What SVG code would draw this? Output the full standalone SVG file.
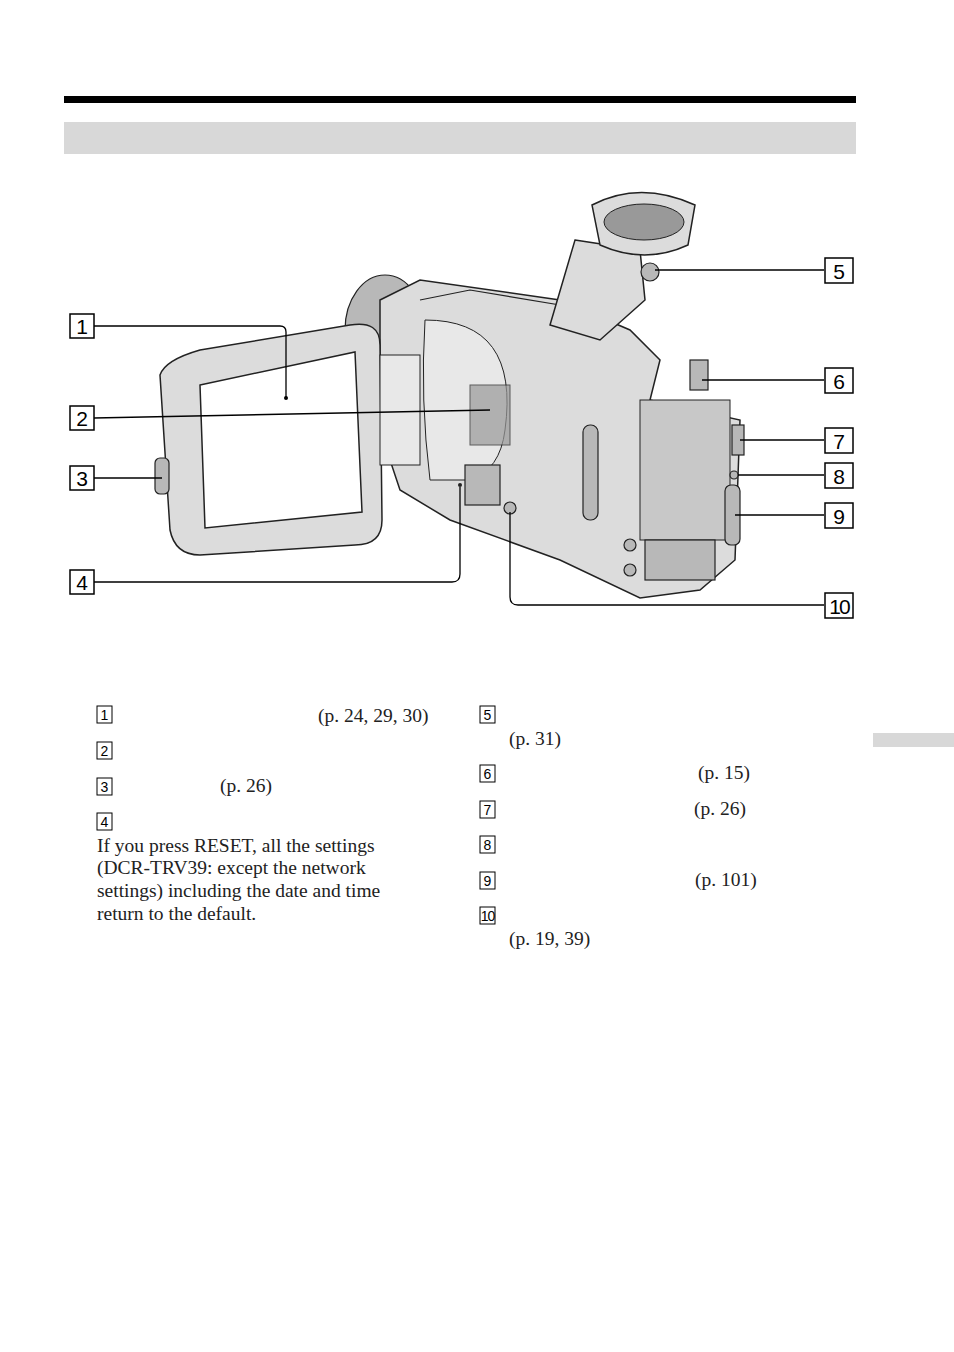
<svg xmlns="http://www.w3.org/2000/svg" width="954" height="1352" viewBox="0 0 954 1352">
<style>
.bx{fill:#fff;stroke:#000;stroke-width:1.5}
.num{font-family:"Liberation Sans",sans-serif;font-size:21px;text-anchor:middle}
.sn{font-family:"Liberation Sans",sans-serif;font-size:14px;text-anchor:middle}
.sb{fill:#fff;stroke:#000;stroke-width:1}
.t{font-family:"Liberation Serif",serif;font-size:19.5px;fill:#222}
.ld{fill:none;stroke:#000;stroke-width:1.3}
.cam{fill:#dcdcdc;stroke:#222;stroke-width:1.5}
.camd{fill:#b8b8b8;stroke:#222;stroke-width:1.2}
.line{fill:none;stroke:#222;stroke-width:1.2}
</style>
<rect x="64" y="96" width="792" height="7" fill="#000"/>
<rect x="64" y="122" width="792" height="32" fill="#d8d8d8"/>
<rect x="873" y="733" width="81" height="14" fill="#d8d8d8"/>

<g id="camera">
<ellipse cx="385" cy="330" rx="40" ry="55" class="camd"/>
<path d="M380 300 L420 280 L560 300 L630 330 L660 360 L650 400 L740 420 L735 560 L700 590 L640 598 L560 560 L450 520 L400 490 L380 430 Z" class="cam"/>
<path d="M420 300 L470 290 L560 305" class="line"/>
<path d="M425 320 Q520 320 505 430 Q500 470 470 480 L430 480 Q420 400 425 320 Z" fill="#e8e8e8" stroke="#222"/>
<rect x="470" y="385" width="40" height="60" fill="#999" stroke="#222" opacity=".7"/>
<rect x="465" y="465" width="35" height="40" class="camd"/>
<circle cx="510" cy="508" r="6" class="camd"/>
<circle cx="460" cy="485" r="2" fill="#222"/>
<rect x="583" y="425" width="15" height="95" rx="7" class="camd"/>
<rect x="640" y="400" width="90" height="140" fill="#c8c8c8" stroke="#222"/>
<rect x="690" y="360" width="18" height="30" class="camd"/>
<rect x="732" y="425" width="12" height="30" class="camd"/>
<circle cx="734" cy="475" r="4" class="camd"/>
<rect x="725" y="485" width="15" height="60" rx="6" class="camd"/>
<rect x="645" y="540" width="70" height="40" class="camd"/>
<circle cx="630" cy="545" r="6" class="camd"/>
<circle cx="630" cy="570" r="6" class="camd"/>
<path d="M575 240 L640 250 L645 300 L600 340 L550 325 Z" class="cam"/>
<path d="M592 205 Q640 180 695 205 L688 245 Q645 265 600 245 Z" class="cam"/>
<ellipse cx="644" cy="222" rx="40" ry="18" fill="#999" stroke="#222"/>
<circle cx="650" cy="272" r="9" class="camd"/>
<path d="M160 375 Q165 360 200 350 L350 325 Q380 320 380 345 L382 520 Q382 545 355 545 L200 555 Q175 555 170 530 Z" class="cam"/>
<path d="M200 385 L355 352 L362 512 L205 528 Z" fill="#fff" stroke="#222" stroke-width="1.5"/>
<rect x="155" y="458" width="14" height="36" rx="5" class="camd"/>
<rect x="380" y="355" width="40" height="110" fill="#e8e8e8" stroke="#222"/>
</g>

<g id="connectors">
<path class="ld" d="M94 326 H280 Q286 326 286 332 V397"/>
<circle cx="286" cy="398" r="2"/>
<path class="ld" d="M94 418 L490 410"/>
<path class="ld" d="M94 478 H162"/>
<path class="ld" d="M94 582 H452 Q460 582 460 574 V487"/>
<path class="ld" d="M824 270 H655"/>
<path class="ld" d="M824 380 H702"/>
<path class="ld" d="M824 440 H740"/>
<path class="ld" d="M824 475 H738"/>
<path class="ld" d="M824 515 H735"/>
<path class="ld" d="M824 605 H518 Q510 605 510 597 V512"/>
</g>

<g id="n1"><rect class="bx" x="70" y="314" width="24" height="24"/><text class="num" x="82" y="334">1</text></g>
<g id="n2"><rect class="bx" x="70" y="406" width="24" height="24"/><text class="num" x="82" y="426">2</text></g>
<g id="n3"><rect class="bx" x="70" y="466" width="24" height="24"/><text class="num" x="82" y="486">3</text></g>
<g id="n4"><rect class="bx" x="70" y="570" width="24" height="24"/><text class="num" x="82" y="590">4</text></g>
<g id="n5"><rect class="bx" x="825" y="258" width="28" height="25"/><text class="num" x="839" y="279">5</text></g>
<g id="n6"><rect class="bx" x="825" y="368" width="28" height="25"/><text class="num" x="839" y="389">6</text></g>
<g id="n7"><rect class="bx" x="825" y="428" width="28" height="25"/><text class="num" x="839" y="449">7</text></g>
<g id="n8"><rect class="bx" x="825" y="463" width="28" height="25"/><text class="num" x="839" y="484">8</text></g>
<g id="n9"><rect class="bx" x="825" y="503" width="28" height="25"/><text class="num" x="839" y="524">9</text></g>
<g id="n10"><rect class="bx" x="825" y="593" width="28" height="25"/><text class="num" x="839" y="614" style="letter-spacing:-2px">10</text></g>

<g id="legend">
<rect class="sb" x="97" y="706" width="15" height="17"/><text class="sn" x="104.5" y="720">1</text>
<rect class="sb" x="97" y="742" width="15" height="17"/><text class="sn" x="104.5" y="756">2</text>
<rect class="sb" x="97" y="778" width="15" height="17"/><text class="sn" x="104.5" y="792">3</text>
<rect class="sb" x="97" y="813" width="15" height="17"/><text class="sn" x="104.5" y="827">4</text>
<text class="t" x="318" y="722">(p. 24, 29, 30)</text>
<text class="t" x="220" y="792">(p. 26)</text>
<text class="t" x="97" y="852">If you press RESET, all the settings</text>
<text class="t" x="97" y="874">(DCR-TRV39: except the network</text>
<text class="t" x="97" y="897">settings) including the date and time</text>
<text class="t" x="97" y="920">return to the default.</text>
<rect class="sb" x="480" y="706" width="15" height="17"/><text class="sn" x="487.5" y="720">5</text>
<rect class="sb" x="480" y="765" width="15" height="17"/><text class="sn" x="487.5" y="779">6</text>
<rect class="sb" x="480" y="801" width="15" height="17"/><text class="sn" x="487.5" y="815">7</text>
<rect class="sb" x="480" y="836" width="15" height="17"/><text class="sn" x="487.5" y="850">8</text>
<rect class="sb" x="480" y="872" width="15" height="17"/><text class="sn" x="487.5" y="886">9</text>
<rect class="sb" x="480" y="907" width="15" height="17"/><text class="sn" x="487.5" y="921" style="letter-spacing:-1px">10</text>
<text class="t" x="509" y="745">(p. 31)</text>
<text class="t" x="698" y="779">(p. 15)</text>
<text class="t" x="694" y="815">(p. 26)</text>
<text class="t" x="695" y="886">(p. 101)</text>
<text class="t" x="509" y="945">(p. 19, 39)</text>
</g>
</svg>
